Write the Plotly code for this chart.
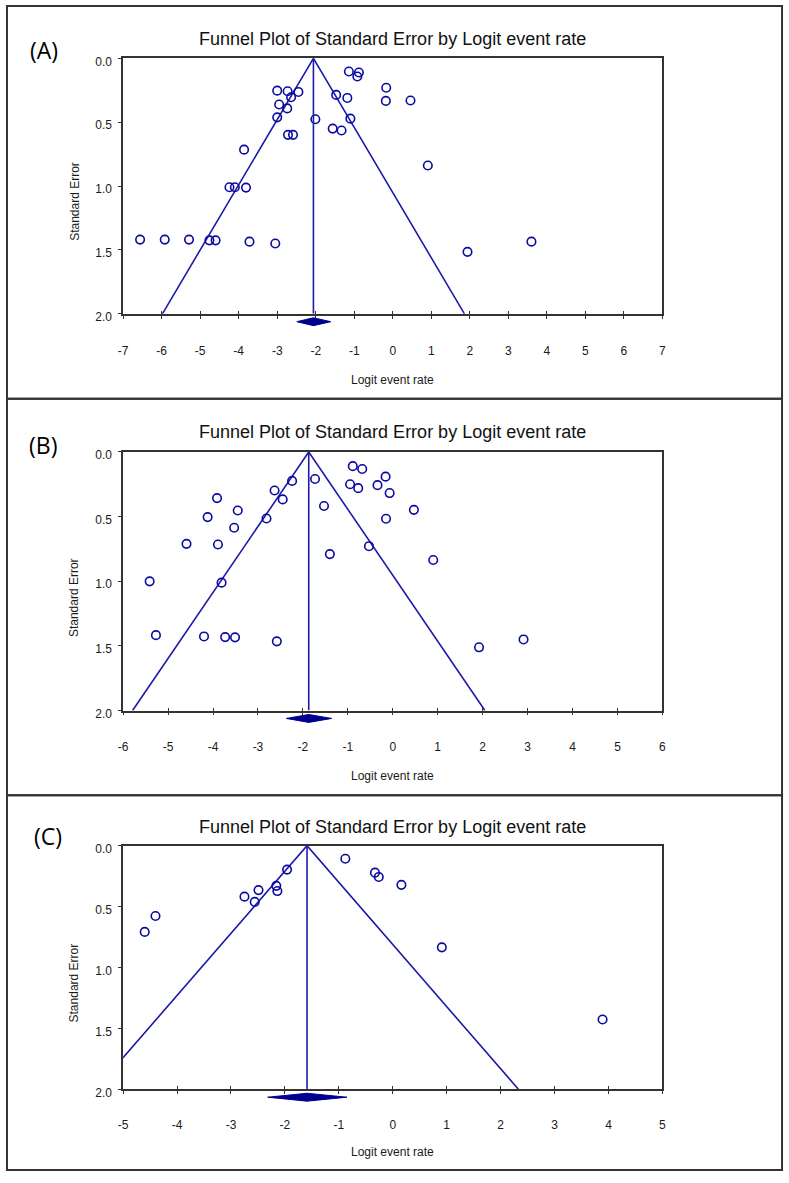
import plotly.graph_objects as go

W, H = 789, 1183

# ---------------- data ----------------
a_logit = [-1.14, -0.88, -0.92, -0.17, -0.18, 0.46, -3.00, -2.73, -2.45, -2.64, -2.95, -2.74,
           -3.00, -1.47, -1.18, -2.01, -1.10, -1.56, -1.33, -2.72, -2.59, -3.86, 0.91, -4.24,
           -4.10, -3.81, -6.56, -5.92, -5.29, -4.76, -4.60, -3.72, -3.05, 1.94, 3.60]
a_se = [0.103, 0.111, 0.142, 0.230, 0.333, 0.330, 0.253, 0.258, 0.263, 0.305, 0.361, 0.392,
        0.462, 0.286, 0.310, 0.477, 0.472, 0.550, 0.565, 0.599, 0.599, 0.715, 0.839, 1.009,
        1.009, 1.012, 1.419, 1.419, 1.419, 1.425, 1.425, 1.435, 1.450, 1.515, 1.435]
a_mean, a_ci_low, a_ci_high = -2.06, -2.49, -1.61
a_ticks = [-7, -6, -5, -4, -3, -2, -1, 0, 1, 2, 3, 4, 5, 6, 7]

b_logit = [-0.89, -0.68, -0.16, -1.73, -2.24, -0.95, -0.77, -0.34, -0.07, -2.63, -2.45, -3.91,
           -1.53, -3.45, 0.47, -4.12, -2.81, -0.15, -3.53, -4.59, -3.89, -0.53, -1.40, 0.90,
           -5.41, -3.81, -5.27, -4.20, -3.73, -3.51, -2.58, 2.91, 1.92]
b_se = [0.110, 0.132, 0.191, 0.209, 0.224, 0.250, 0.280, 0.257, 0.318, 0.298, 0.367, 0.357,
        0.418, 0.453, 0.448, 0.504, 0.515, 0.517, 0.586, 0.711, 0.716, 0.729, 0.790, 0.836,
        1.001, 1.011, 1.417, 1.427, 1.432, 1.434, 1.465, 1.450, 1.511]
b_mean, b_ci_low, b_ci_high = -1.87, -2.37, -1.36
b_ticks = [-6, -5, -4, -3, -2, -1, 0, 1, 2, 3, 4, 5, 6]

c_logit = [-0.88, -1.96, -0.33, -0.26, 0.16, -2.16, -2.14, -2.49, -2.75, -2.56, -4.40, -4.60,
           0.91, 3.89]
c_se = [0.108, 0.197, 0.222, 0.257, 0.322, 0.330, 0.373, 0.365, 0.419, 0.462, 0.578, 0.708,
        0.835, 1.427]
c_mean, c_ci_low, c_ci_high = -1.59, -2.32, -0.85
c_ticks = [-5, -4, -3, -2, -1, 0, 1, 2, 3, 4, 5]

se_ticks = [0.0, 0.5, 1.0, 1.5, 2.0]
se_max = 2.0
z = 1.96

panel_labels = ["(A)", "(B)", "(C)"]
title_text = "Funnel Plot of Standard Error by Logit event rate"
x_title = "Logit event rate"
y_title = "Standard Error"

# ---------------- layout geometry (pixels) ----------------
plot_left, plot_right = 119.5, 665.0
panels = [
    dict(logit=a_logit, se=a_se, mean=a_mean, lo=a_ci_low, hi=a_ci_high, ticks=a_ticks,
         top=55.0, bottom=313.5, frame=(2, 399.5), title_y=35, xt_y=380, yt_y=200,
         lab=(39, 47), standoff=22),
    dict(logit=b_logit, se=b_se, mean=b_mean, lo=b_ci_low, hi=b_ci_high, ticks=b_ticks,
         top=453.3, bottom=715.0, frame=(399.5, 800.7), title_y=433, xt_y=781.5, yt_y=601,
         lab=(38, 446), standoff=21),
    dict(logit=c_logit, se=c_se, mean=c_mean, lo=c_ci_low, hi=c_ci_high, ticks=c_ticks,
         top=851.7, bottom=1098.3, frame=(800.7, 1180), title_y=833, xt_y=1161.5, yt_y=991,
         lab=(44, 842), standoff=20),
]


def px_x(p):
    return p / W


def px_y(p):
    return 1 - p / H


BLUE_M = "#0a0aa2"
BLUE_L = "#1c1ca8"
DARK = "#333333"
TXT = "#1a1a1a"
FONT = "Liberation Sans, Arial, sans-serif"

fig = go.Figure()
layout = dict(
    width=W, height=H, autosize=False,
    margin=dict(l=0, r=0, t=0, b=0, pad=0),
    paper_bgcolor="white", plot_bgcolor="white",
    showlegend=False,
    font=dict(family=FONT, size=12, color=TXT),
    shapes=[], annotations=[],
)

xdom = [px_x(plot_left), px_x(plot_right)]

for i, p in enumerate(panels, start=1):
    xr = [p["ticks"][0], p["ticks"][-1]]
    interior = p["ticks"][1:-1]
    main_x, main_y = f"x{i}", f"y{i}"
    dia_x, dia_y = f"x{3 + i}", f"y{3 + i}"
    ov_x = f"x{6 + i}"

    ydom = [px_y(p["bottom"]), px_y(p["top"])]
    layout[f"xaxis{i}"] = dict(
        domain=xdom, range=xr, anchor=main_y, tickmode="array", tickvals=p["ticks"],
        ticktext=[str(t) for t in p["ticks"]], ticks="outside", ticklen=3, tickwidth=1.3,
        tickcolor=DARK, showline=True, mirror=True, linecolor=DARK, linewidth=1.6,
        showgrid=False, zeroline=False, ticklabelstandoff=p["standoff"],
        tickfont=dict(family=FONT, size=12, color=TXT), fixedrange=True,
    )
    layout[f"yaxis{i}"] = dict(
        domain=ydom, range=[se_max, 0], anchor=main_x, tickmode="array", tickvals=se_ticks,
        ticktext=[f"{v:.1f}" for v in se_ticks], ticks="outside", ticklen=3, tickwidth=1.3,
        tickcolor=DARK, showline=True, mirror=True, linecolor=DARK, linewidth=1.6,
        showgrid=False, zeroline=False, ticklabelstandoff=4, ticklabelshift=-3,
        tickfont=dict(family=FONT, size=12, color=TXT), fixedrange=True,
    )
    # overlay x axis: inner half of the crossing tick marks
    layout[f"xaxis{6 + i}"] = dict(
        overlaying=main_x, anchor=main_y, side="bottom", range=xr, tickmode="array",
        tickvals=interior, ticks="inside", ticklen=3, tickwidth=1.3, tickcolor=DARK,
        showticklabels=False, showline=False, showgrid=False, zeroline=False, fixedrange=True,
    )
    # diamond strip just under the plot
    layout[f"xaxis{3 + i}"] = dict(
        domain=xdom, range=xr, anchor=dia_y, visible=False, fixedrange=True,
    )
    layout[f"yaxis{3 + i}"] = dict(
        domain=[px_y(p["bottom"] + 14), px_y(p["bottom"] + 2)], range=[-1.5, 1.5],
        anchor=dia_x, visible=False, fixedrange=True,
    )

    m = p["mean"]
    # funnel limits
    fig.add_trace(go.Scatter(
        x=[m - z * se_max, m, m + z * se_max], y=[se_max, 0, se_max], mode="lines",
        line=dict(color=BLUE_L, width=1.6), xaxis=main_x, yaxis=main_y, hoverinfo="skip"))
    # studies
    fig.add_trace(go.Scatter(
        x=p["logit"], y=p["se"], mode="markers",
        marker=dict(symbol="circle-open", size=8.5, color=BLUE_M, line=dict(width=1.6, color=BLUE_M)),
        xaxis=main_x, yaxis=main_y, cliponaxis=False))
    # mean line (drawn on overlay axis so the overlay subplot exists)
    fig.add_trace(go.Scatter(
        x=[m, m], y=[0, se_max], mode="lines", line=dict(color=BLUE_L, width=1.6),
        xaxis=ov_x, yaxis=main_y, hoverinfo="skip"))
    # summary diamond
    fig.add_trace(go.Scatter(
        x=[p["lo"], m, p["hi"], m, p["lo"]], y=[0, 1, 0, -1, 0], mode="lines", fill="toself",
        fillcolor="#00008f", line=dict(color="#00008f", width=1), xaxis=dia_x, yaxis=dia_y,
        hoverinfo="skip"))

    # panel frame
    f0, f1 = p["frame"]
    layout["shapes"].append(dict(
        type="rect", xref="paper", yref="paper", x0=px_x(2), x1=px_x(786), y0=px_y(f1), y1=px_y(f0),
        line=dict(color=DARK, width=2), fillcolor="rgba(0,0,0,0)", layer="above"))

    cx = (plot_left + plot_right) / 2
    layout["annotations"] += [
        dict(text=title_text, x=px_x(cx), y=px_y(p["title_y"]), xref="paper", yref="paper",
             xanchor="center", yanchor="middle", showarrow=False,
             font=dict(family=FONT, size=18, color="#111111")),
        dict(text=x_title, x=px_x(cx), y=px_y(p["xt_y"]), xref="paper", yref="paper",
             xanchor="center", yanchor="middle", showarrow=False,
             font=dict(family=FONT, size=12, color=TXT)),
        dict(text=y_title, x=px_x(70), y=px_y(p["yt_y"]), xref="paper", yref="paper",
             xanchor="center", yanchor="middle", showarrow=False, textangle=-90,
             font=dict(family=FONT, size=12, color=TXT)),
        dict(text=panel_labels[i - 1], x=px_x(p["lab"][0]), y=px_y(p["lab"][1]), xref="paper",
             yref="paper", xanchor="center", yanchor="middle", showarrow=False,
             font=dict(family="Open Sans, Noto Sans, sans-serif", size=23, color="#000000")),
    ]

fig.update_layout(**layout)
fig.write_html("out.html", config={"displayModeBar": False},
               post_script="document.body.style.margin='0';document.body.style.overflow='hidden';")
